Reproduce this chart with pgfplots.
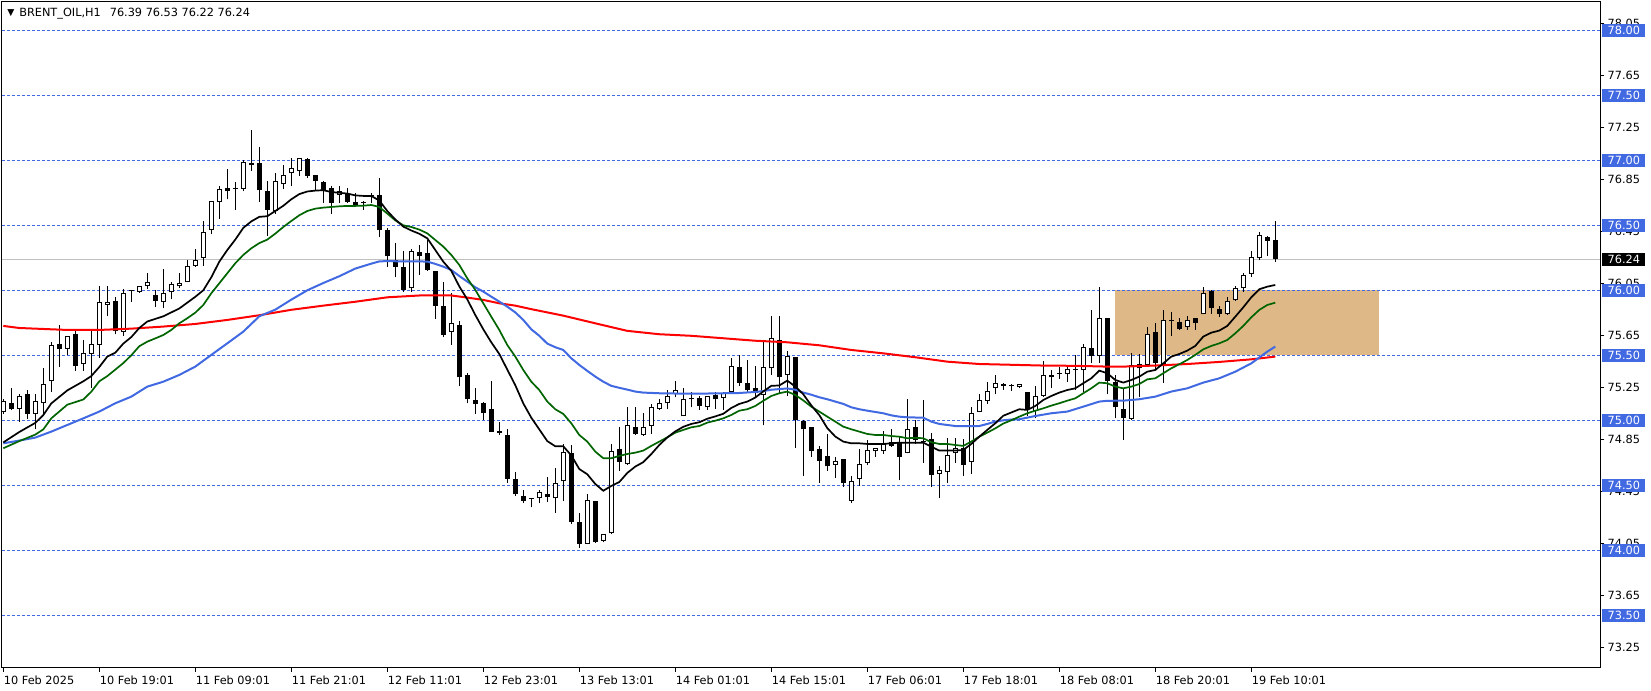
\documentclass[border=0pt]{standalone}
\usepackage{pgfplots}
\pgfplotsset{compat=1.18}
\usepackage{pgfplotstable}
\usepackage{fontspec}
\setmainfont{DejaVu Sans}
\definecolor{rblue}{HTML}{4169E1}
\definecolor{burly}{HTML}{DEB887}
\definecolor{dgreen}{HTML}{006400}
\definecolor{silv}{HTML}{C0C0C0}
\newcommand{\lblfont}{\fontsize{5.65pt}{6.8pt}\selectfont}

\pgfplotstableread{
i O H L C
0 75.06 75.16 75.05 75.15
1 75.13 75.25 75.08 75.085
2 75.09 75.20 74.99 75.19
3 75.20 75.23 75.01 75.05
4 75.05 75.20 74.93 75.15
5 75.13 75.40 75.05 75.28
6 75.30 75.60 75.22 75.58
7 75.59 75.73 75.41 75.55
8 75.55 75.65 75.50 75.645
9 75.66 75.70 75.38 75.42
10 75.43 75.62 75.38 75.52
11 75.51 75.70 75.25 75.59
12 75.58 76.03 75.48 75.91
13 75.89 76.03 75.80 75.91
14 75.92 75.95 75.66 75.69
15 75.68 76.01 75.65 75.98
16 75.995 76.00 75.91 76.003
17 75.99 76.03 75.98 76.03
18 76.03 76.13 76.01 76.06
19 75.96 76.00 75.87 75.92
20 75.91 76.16 75.86 75.98
21 75.985 76.06 75.93 76.05
22 76.03 76.13 76.02 76.055
23 76.06 76.23 76.06 76.19
24 76.19 76.32 76.18 76.23
25 76.25 76.53 76.19 76.45
26 76.46 76.69 76.43 76.685
27 76.68 76.80 76.55 76.78
28 76.79 76.93 76.70 76.76
29 76.782 76.83 76.62 76.79
30 76.78 77.00 76.76 76.99
31 76.98 77.23 76.92 76.96
32 76.98 77.10 76.68 76.77
33 76.76 76.84 76.42 76.62
34 76.61 76.90 76.59 76.84
35 76.82 76.96 76.78 76.885
36 76.90 77.02 76.80 76.94
37 76.92 77.02 76.88 77.02
38 77.01 77.02 76.86 76.88
39 76.89 76.89 76.77 76.84
40 76.83 76.84 76.67 76.76
41 76.785 76.80 76.585 76.675
42 76.73 76.80 76.67 76.76
43 76.74 76.79 76.67 76.68
44 76.68 76.75 76.64 76.655
45 76.67 76.69 76.62 76.678
46 76.725 76.75 76.67 76.733
47 76.73 76.86 76.41 76.46
48 76.46 76.48 76.18 76.26
49 76.23 76.36 76.10 76.18
50 76.18 76.30 75.99 76.00
51 76.015 76.32 75.99 76.30
52 76.295 76.35 76.12 76.26
53 76.285 76.39 76.15 76.155
54 76.15 76.15 75.78 75.88
55 75.88 76.06 75.64 75.655
56 75.68 75.98 75.58 75.745
57 75.73 75.76 75.26 75.33
58 75.345 75.36 75.13 75.16
59 75.155 75.25 75.05 75.125
60 75.13 75.14 75.00 75.055
61 75.09 75.30 74.91 74.91
62 74.92 74.99 74.89 74.90
63 74.89 74.93 74.52 74.55
64 74.55 74.60 74.42 74.43
65 74.42 74.46 74.36 74.38
66 74.395 74.40 74.33 74.403
67 74.40 74.46 74.36 74.445
68 74.43 74.56 74.37 74.41
69 74.40 74.63 74.29 74.52
70 74.53 74.82 74.38 74.755
71 74.745 74.81 74.20 74.22
72 74.22 74.285 74.02 74.05
73 74.05 74.43 74.045 74.39
74 74.38 74.38 74.055 74.06
75 74.075 74.125 74.06 74.125
76 74.13 74.82 74.125 74.76
77 74.78 74.95 74.61 74.68
78 74.66 75.10 74.655 74.96
79 74.945 75.10 74.885 74.895
80 74.89 75.055 74.88 74.945
81 74.955 75.125 74.895 75.10
82 75.09 75.16 75.08 75.13
83 75.13 75.23 75.085 75.19
84 75.20 75.30 75.18 75.23
85 75.03 75.25 75.03 75.16
86 75.175 75.22 75.10 75.16
87 75.175 75.19 75.08 75.11
88 75.10 75.19 75.08 75.185
89 75.195 75.22 75.09 75.16
90 75.175 75.215 75.08 75.21
91 75.22 75.48 75.21 75.42
92 75.41 75.50 75.26 75.285
93 75.29 75.46 75.21 75.23
94 75.245 75.42 75.18 75.21
95 75.195 75.62 74.96 75.41
96 75.40 75.80 75.35 75.63
97 75.62 75.80 75.20 75.33
98 75.35 75.53 75.19 75.495
99 75.485 75.49 74.785 75.00
100 74.995 75.00 74.57 74.93
101 74.95 74.95 74.72 74.76
102 74.78 74.805 74.52 74.69
103 74.725 74.895 74.61 74.645
104 74.655 74.72 74.555 74.69
105 74.70 74.70 74.485 74.515
106 74.38 74.57 74.365 74.53
107 74.545 74.78 74.495 74.66
108 74.675 74.845 74.655 74.775
109 74.76 74.79 74.72 74.785
110 74.76 74.915 74.74 74.815
111 74.83 74.93 74.795 74.80
112 74.83 74.875 74.54 74.72
113 74.745 75.16 74.745 74.93
114 74.95 75.00 74.82 74.85
115 74.83 75.155 74.675 74.838
116 74.855 74.90 74.485 74.58
117 74.585 74.65 74.40 74.615
118 74.60 74.86 74.515 74.735
119 74.745 74.86 74.675 74.79
120 74.785 74.855 74.57 74.655
121 74.68 75.10 74.585 75.055
122 75.06 75.20 75.06 75.155
123 75.15 75.295 75.125 75.225
124 75.245 75.35 75.20 75.285
125 75.28 75.285 75.235 75.26
126 75.27 75.28 75.228 75.262
127 75.254 75.28 75.246 75.277
128 75.218 75.22 75.03 75.09
129 75.07 75.26 75.015 75.19
130 75.19 75.455 75.18 75.345
131 75.33 75.39 75.245 75.345
132 75.355 75.41 75.32 75.363
133 75.355 75.42 75.295 75.395
134 75.39 75.50 75.23 75.398
135 75.39 75.59 75.22 75.56
136 75.555 75.85 75.44 75.495
137 75.495 76.025 75.44 75.79
138 75.785 75.79 75.20 75.30
139 75.295 75.345 75.015 75.10
140 75.085 75.245 74.85 75.02
141 75.01 75.515 75.00 75.425
142 75.40 75.51 75.18 75.433
143 75.425 75.72 75.42 75.665
144 75.68 75.75 75.39 75.44
145 75.435 75.85 75.29 75.775
146 75.76 75.835 75.65 75.768
147 75.755 75.785 75.695 75.70
148 75.72 75.80 75.695 75.775
149 75.785 75.79 75.695 75.745
150 75.815 76.025 75.815 75.98
151 75.995 76.00 75.82 75.86
152 75.855 75.88 75.795 75.82
153 75.82 75.95 75.81 75.915
154 75.925 76.03 75.92 76.02
155 76.015 76.13 75.99 76.115
156 76.125 76.30 76.105 76.255
157 76.245 76.445 76.23 76.425
158 76.41 76.42 76.265 76.38
159 76.39 76.53 76.22 76.24
}\candles

\pgfplotstableread{
i v
0 74.83
2 74.91
4 74.98
5 75.04
6 75.13
8 75.23
10 75.30
11 75.34
12 75.41
13 75.49
14 75.52
15 75.59
16 75.64
17 75.71
18 75.76
20 75.80
22 75.86
24 75.95
25 76.00
26 76.10
27 76.22
28 76.31
29 76.39
30 76.48
31 76.53
32 76.565
33 76.57
34 76.61
35 76.65
36 76.70
37 76.74
38 76.76
39 76.767
40 76.77
41 76.756
42 76.75
43 76.744
44 76.73
45 76.726
46 76.726
47 76.69
48 76.61
49 76.545
50 76.49
51 76.46
52 76.435
53 76.40
54 76.31
55 76.22
56 76.15
57 76.03
58 75.93
59 75.81
60 75.70
61 75.60
62 75.51
63 75.39
64 75.27
65 75.13
66 75.02
67 74.93
68 74.84
69 74.80
70 74.80
71 74.73
72 74.625
73 74.585
74 74.51
75 74.458
76 74.495
77 74.525
78 74.595
79 74.644
80 74.678
81 74.74
82 74.81
83 74.868
84 74.915
85 74.95
86 74.972
87 74.985
88 75.012
89 75.03
90 75.05
91 75.095
92 75.126
93 75.144
94 75.175
95 75.222
96 75.265
97 75.268
98 75.305
99 75.26
100 75.20
101 75.115
102 75.04
103 74.94
104 74.875
105 74.836
106 74.823
107 74.823
108 74.818
109 74.818
110 74.818
111 74.823
112 74.828
113 74.828
114 74.828
115 74.828
116 74.797
117 74.767
118 74.767
119 74.767
120 74.772
121 74.818
122 74.874
123 74.926
124 74.977
125 75.035
126 75.06
127 75.085
128 75.08
129 75.11
130 75.156
131 75.187
132 75.213
133 75.233
134 75.246
135 75.285
136 75.323
137 75.382
138 75.362
139 75.31
140 75.29
141 75.31
142 75.336
143 75.374
144 75.387
145 75.438
146 75.49
147 75.51
148 75.536
149 75.572
150 75.644
151 75.674
152 75.69
153 75.726
154 75.797
155 75.869
156 75.946
157 76.008
158 76.028
159 76.041
}\maBlack

\pgfplotstableread{
i v
0 74.785
2 74.84
4 74.89
5 74.93
6 75.015
8 75.12
10 75.16
11 75.22
12 75.30
13 75.34
14 75.39
15 75.44
16 75.50
17 75.57
18 75.605
19 75.63
20 75.656
21 75.695
22 75.746
23 75.785
24 75.828
25 75.887
26 75.977
27 76.054
28 76.131
29 76.208
30 76.272
31 76.323
32 76.363
33 76.39
34 76.436
35 76.487
36 76.533
37 76.577
38 76.61
39 76.628
40 76.636
41 76.641
42 76.646
43 76.649
44 76.649
45 76.651
46 76.656
47 76.641
48 76.59
49 76.538
50 76.50
51 76.487
52 76.467
53 76.438
54 76.387
55 76.336
56 76.272
57 76.195
58 76.092
59 76.003
60 75.90
61 75.797
62 75.695
63 75.579
64 75.49
65 75.387
66 75.297
67 75.233
68 75.144
69 75.085
70 75.049
71 74.977
72 74.887
73 74.836
74 74.759
75 74.708
76 74.708
77 74.726
78 74.741
79 74.751
80 74.767
81 74.803
82 74.836
83 74.869
84 74.905
85 74.926
86 74.946
87 74.956
88 74.982
89 74.997
90 75.015
91 75.041
92 75.074
93 75.085
94 75.11
95 75.15
96 75.187
97 75.208
98 75.221
99 75.195
100 75.153
101 75.105
102 75.067
103 75.028
104 74.99
105 74.951
106 74.931
107 74.913
108 74.895
109 74.887
110 74.887
111 74.879
112 74.874
113 74.862
114 74.865
115 74.862
116 74.831
117 74.818
118 74.818
119 74.81
120 74.803
121 74.836
122 74.874
123 74.905
124 74.938
125 74.975
126 75.0
127 75.028
128 75.054
129 75.074
130 75.092
131 75.113
132 75.131
133 75.151
134 75.169
135 75.208
136 75.246
137 75.29
138 75.285
139 75.259
140 75.246
141 75.259
142 75.279
143 75.315
144 75.323
145 75.362
146 75.40
147 75.431
148 75.464
149 75.503
150 75.546
151 75.572
152 75.592
153 75.618
154 75.669
155 75.726
156 75.792
157 75.849
158 75.887
159 75.905
}\maGreen

\pgfplotstableread{
i v
0 74.823
2 74.844
4 74.867
6 74.913
8 74.964
10 75.015
12 75.067
14 75.131
16 75.182
18 75.259
20 75.297
22 75.349
24 75.413
26 75.503
28 75.592
30 75.682
32 75.80
34 75.851
36 75.928
38 76.0
40 76.056
42 76.108
44 76.167
46 76.205
47 76.222
48 76.225
50 76.222
52 76.222
53 76.221
54 76.203
55 76.182
56 76.156
57 76.11
58 76.067
59 76.023
60 75.99
61 75.951
62 75.913
63 75.874
64 75.83
65 75.772
66 75.70
67 75.65
68 75.59
69 75.562
70 75.541
71 75.477
72 75.426
73 75.38
74 75.336
75 75.297
76 75.265
77 75.25
78 75.236
79 75.221
80 75.213
82 75.208
84 75.206
88 75.206
92 75.21
94 75.218
95 75.225
96 75.235
98 75.245
99 75.235
100 75.213
101 75.197
102 75.177
103 75.162
104 75.144
105 75.126
106 75.1
107 75.085
108 75.074
109 75.064
110 75.054
111 75.038
112 75.028
113 75.023
115 75.02
116 74.99
117 74.972
118 74.964
119 74.956
122 74.956
123 74.972
124 74.99
125 75.0
126 75.006
127 75.008
129 75.033
131 75.054
133 75.067
135 75.105
137 75.144
138 75.15
140 75.151
142 75.162
144 75.182
146 75.221
148 75.246
150 75.29
152 75.323
154 75.374
156 75.438
158 75.528
159 75.567
}\maBlue

\pgfplotstableread{
i v
0 75.726
2 75.71
4 75.705
8 75.695
12 75.695
16 75.705
20 75.721
24 75.741
28 75.772
32 75.808
36 75.85
40 75.882
44 75.912
48 75.946
52 75.96
56 75.96
58 75.944
60 75.926
62 75.90
64 75.882
66 75.855
70 75.805
74 75.746
78 75.688
82 75.662
86 75.65
90 75.631
94 75.612
98 75.60
102 75.577
106 75.541
110 75.515
114 75.485
118 75.451
122 75.433
126 75.427
130 75.421
134 75.419
138 75.413
140 75.413
144 75.421
148 75.433
152 75.449
156 75.469
159 75.49
}\maRed

\begin{document}
\begin{tikzpicture}
\useasboundingbox (0,0) rectangle (825.5pt,345.5pt);
\begin{axis}[
  at={(1pt,11.5pt)}, anchor=south west,
  scale only axis, width=799pt, height=333pt,
  xmin=-0.1625, xmax=199.59, ymin=73.0946, ymax=78.2177,
  clip=false,
  axis line style={black, line width=0.5pt},
  tick align=outside,
  major tick length=2pt,
  tick style={black, line width=0.5pt},
  xtick pos=left, ytick pos=right,
  yticklabel pos=right,
  xtick={0,12,...,156},
  xticklabels={10 Feb 2025,10 Feb 19:01,11 Feb 09:01,11 Feb 21:01,12 Feb 11:01,12 Feb 23:01,13 Feb 13:01,14 Feb 01:01,14 Feb 15:01,17 Feb 06:01,17 Feb 18:01,18 Feb 08:01,18 Feb 20:01,19 Feb 10:01},
  xticklabel style={font=\lblfont, anchor=north west, inner sep=0pt, xshift=0.1pt, yshift=-1.6pt},
  ytick={73.25,73.65,74.05,74.45,74.85,75.25,75.65,76.05,76.45,76.85,77.25,77.65,78.05},
  scaled y ticks=false,
  yticklabel style={font=\lblfont, anchor=west, inner sep=0pt, minimum width=21.5pt, minimum height=6.5pt, xshift=-1pt,
    /pgf/number format/fixed, /pgf/number format/fixed zerofill, /pgf/number format/precision=2, /pgf/number format/assume math mode=true},
  extra y ticks={73.5,74,74.5,75,75.5,76,76.5,77,77.5,78},
  extra y tick style={tick style={draw=none}, yticklabel style={fill=rblue, text=white}},
]
% zone
\addplot[fill=burly, draw=none, forget plot] coordinates {(138.96,75.5) (171.96,75.5) (171.96,76) (138.96,76)};
% dashed levels
\pgfplotsinvokeforeach{73.5,74,74.5,75,75.5,76,76.5,77,77.5,78}{
  \addplot[rblue, line width=0.5pt, dash pattern=on 1.5pt off 1pt, forget plot] coordinates {(-0.1625,#1) (199.59,#1)};
}
% current price
\addplot[silv, line width=0.5pt, forget plot] coordinates {(-0.1625,76.24) (199.59,76.24)};
% wicks
\addplot[draw=none, mark=none, forget plot, error bars/.cd, y dir=plus, y explicit, error mark=none,
  error bar style={draw=black, solid, line width=0.5pt}]
  table[x=i, y=L, y error plus expr={\thisrow{H}-\thisrow{L}}] {\candles};
% bodies
\addplot[draw=none, mark=none, forget plot, error bars/.cd, y dir=plus, y explicit, error mark=none,
  error bar style={draw=black, solid, line width=2.5pt}]
  table[x=i, y expr={min(\thisrow{O},\thisrow{C})}, y error plus expr={abs(\thisrow{C}-\thisrow{O})}] {\candles};
% white fill of up candles
\addplot[draw=none, mark=none, forget plot, restrict expr to domain={\thisrow{C}-\thisrow{O}}{0.017:10},
  error bars/.cd, y dir=plus, y explicit, error mark=none,
  error bar style={draw=white, solid, line width=1.5pt}]
  table[x=i, y expr={\thisrow{O}+0.0077}, y error plus expr={\thisrow{C}-\thisrow{O}-0.0154}] {\candles};
% moving averages
\addplot[red, line width=1pt, forget plot] table[x=i, y=v] {\maRed};
\addplot[rblue, line width=1pt, forget plot] table[x=i, y=v] {\maBlue};
\addplot[dgreen, line width=0.85pt, forget plot] table[x=i, y=v] {\maGreen};
\addplot[black, line width=0.85pt, forget plot] table[x=i, y=v] {\maBlack};
% current price label
\node[anchor=west, inner sep=0pt, minimum width=21.5pt, minimum height=6.5pt, fill=black, text=white, font=\lblfont, xshift=1pt] at (axis cs:199.59,76.24) {76.24};
% title
\node[anchor=base west, inner sep=0pt, font=\lblfont] at (rel axis cs:0,1) [xshift=2.5pt, yshift=-7.35pt]
  {\raisebox{0.6pt}{\fontsize{4.6pt}{5pt}\selectfont ▼}\hspace{2.4pt}BRENT\_OIL,H1\hspace{4.5pt}76.39 76.53 76.22 76.24};
\end{axis}
\end{tikzpicture}
\end{document}
